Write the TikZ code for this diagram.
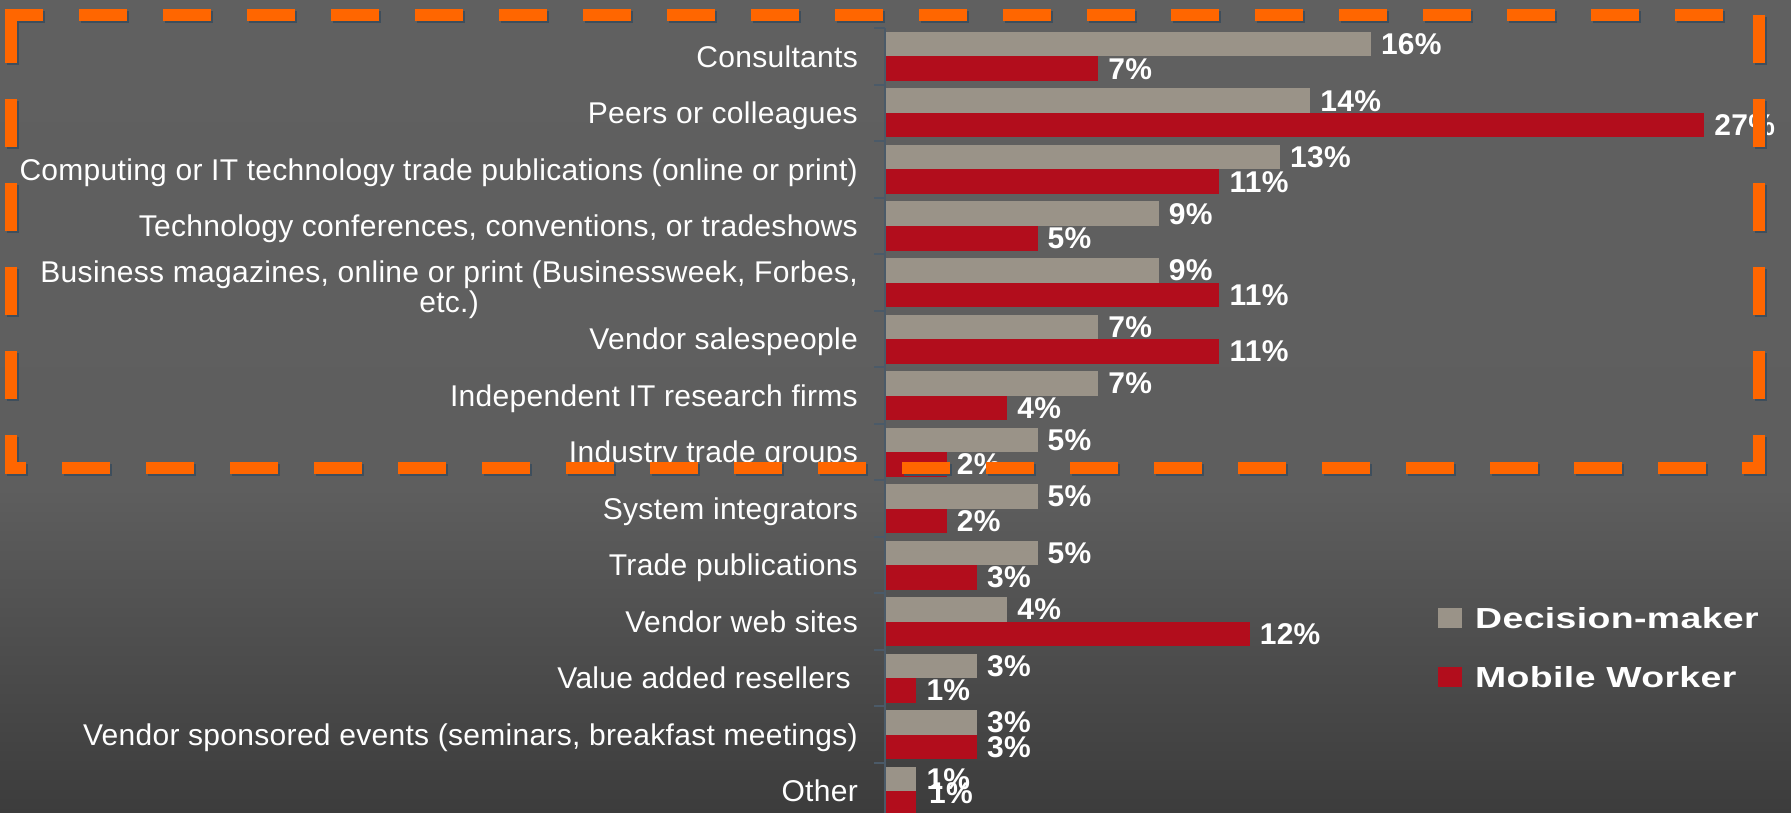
\documentclass[tikz,border=0pt]{standalone}
\usepackage{fontspec}
\usepackage{graphicx}
\setmainfont[LetterSpace=1]{Liberation Sans}
\definecolor{decis}{HTML}{9A9388}
\definecolor{mobil}{HTML}{B20D1C}
\definecolor{bgtop}{HTML}{606060}
\definecolor{bgmid}{HTML}{5E5E5E}
\definecolor{bgbot}{HTML}{3C3C3C}
\definecolor{orange}{HTML}{FF6600}
\definecolor{dashshadow}{HTML}{3E4E5C}
\definecolor{axis}{HTML}{4B5A68}
\pgfdeclareverticalshading{backdrop}{100bp}{color(0bp)=(bgbot); color(25bp)=(bgbot); color(45bp)=(bgmid); color(75bp)=(bgtop); color(100bp)=(bgtop)}
\newcommand{\widetxt}[1]{\scalebox{1.29}[1]{#1}}
\begin{document}
\begin{tikzpicture}[x=1pt,y=-1pt,
  cat/.style={text=white,inner sep=0pt,anchor=base east,font=\fontsize{30}{30}\selectfont},
  pct/.style={text=white,inner sep=0pt,anchor=base west,font=\bfseries\fontsize{30}{30}\selectfont},
  legendtxt/.style={text=white,inner sep=0pt,anchor=base west,font=\bfseries\fontsize{29}{30}\selectfont},
  axisline/.style={draw=axis,line width=2pt},
  boxdash/.style={draw=orange,line width=12pt,dash pattern=on 48pt off 36pt},
  boxshadow/.style={boxdash,draw=dashshadow,xshift=2pt,yshift=-2pt}]
\useasboundingbox (0,0) rectangle (1791,813);
\clip (0,0) rectangle (1791,813);
\shade[shading=backdrop] (0,0) rectangle (1791,813);
% axis
\draw[axisline] (885,28.25) -- (885,813);
\draw[axisline] (874,28.25) -- (885,28.25);
\draw[axisline] (874,84.75) -- (885,84.75);
\draw[axisline] (874,141.25) -- (885,141.25);
\draw[axisline] (874,197.75) -- (885,197.75);
\draw[axisline] (874,254.25) -- (885,254.25);
\draw[axisline] (874,310.75) -- (885,310.75);
\draw[axisline] (874,367.25) -- (885,367.25);
\draw[axisline] (874,423.75) -- (885,423.75);
\draw[axisline] (874,480.25) -- (885,480.25);
\draw[axisline] (874,536.75) -- (885,536.75);
\draw[axisline] (874,593.25) -- (885,593.25);
\draw[axisline] (874,649.75) -- (885,649.75);
\draw[axisline] (874,706.25) -- (885,706.25);
\draw[axisline] (874,762.75) -- (885,762.75);
% bars
\fill[decis] (886,32) rectangle (1370.8,56.5);
\fill[mobil] (886,56.5) rectangle (1098.1,81);
\fill[decis] (886,88.5) rectangle (1310.2,113);
\fill[mobil] (886,113) rectangle (1704.1,137.5);
\fill[decis] (886,145) rectangle (1279.9,169.5);
\fill[mobil] (886,169.5) rectangle (1219.3,194);
\fill[decis] (886,201.5) rectangle (1158.7,226);
\fill[mobil] (886,226) rectangle (1037.5,250.5);
\fill[decis] (886,258) rectangle (1158.7,282.5);
\fill[mobil] (886,282.5) rectangle (1219.3,307);
\fill[decis] (886,314.5) rectangle (1098.1,339);
\fill[mobil] (886,339) rectangle (1219.3,363.5);
\fill[decis] (886,371) rectangle (1098.1,395.5);
\fill[mobil] (886,395.5) rectangle (1007.2,420);
\fill[decis] (886,427.5) rectangle (1037.5,452);
\fill[mobil] (886,452) rectangle (946.6,476.5);
\fill[decis] (886,484) rectangle (1037.5,508.5);
\fill[mobil] (886,508.5) rectangle (946.6,533);
\fill[decis] (886,540.5) rectangle (1037.5,565);
\fill[mobil] (886,565) rectangle (976.9,589.5);
\fill[decis] (886,597) rectangle (1007.2,621.5);
\fill[mobil] (886,621.5) rectangle (1249.6,646);
\fill[decis] (886,653.5) rectangle (976.9,678);
\fill[mobil] (886,678) rectangle (916.3,702.5);
\fill[decis] (886,710) rectangle (976.9,734.5);
\fill[mobil] (886,734.5) rectangle (976.9,759);
\fill[decis] (886,766.5) rectangle (916.3,791);
\fill[mobil] (886,791) rectangle (916.3,813);
% categories
\node[cat] (cons) at (858,67.2) {Consultants};
\node[cat] (peers) at (858,123.7) {Peers or colleagues};
\node[cat] (comp) at (858,180.2) {Computing or IT technology trade publications (online or print)};
\node[cat] (tech) at (858,236.7) {Technology conferences, conventions, or tradeshows};
\node[cat,anchor=east,align=center] (biz) at (858,290) {Business magazines, online or print (Businessweek, Forbes,\\etc.)};
\node[cat] (sales) at (858,349.7) {Vendor salespeople};
\node[cat] (indep) at (858,406.2) {Independent IT research firms};
\node[cat] (indus) at (858,462.7) {Industry trade groups};
\node[cat] (sysint) at (858,519.2) {System integrators};
\node[cat] (tradepub) at (858,575.7) {Trade publications};
\node[cat] (web) at (858,632.2) {Vendor web sites};
\node[cat] (resell) at (858,688.7) {Value added resellers\rule{7pt}{0pt}};
\node[cat] (spons) at (858,745.2) {Vendor sponsored events (seminars, breakfast meetings)};
\node[cat] (other) at (858,801.7) {Other};
% values
\node[pct] (dcons) at (1380.8,54.95) {16\%};
\node[pct] (mcons) at (1108.1,79.45) {7\%};
\node[pct] (dpeers) at (1320.2,111.45) {14\%};
\node[pct] (mpeers) at (1714.1,135.95) {27\%};
\node[pct] (dcomp) at (1289.9,167.95) {13\%};
\node[pct] (mcomp) at (1229.3,192.45) {11\%};
\node[pct] (dtech) at (1168.7,224.45) {9\%};
\node[pct] (mtech) at (1047.5,248.95) {5\%};
\node[pct] (dbiz) at (1168.7,280.95) {9\%};
\node[pct] (mbiz) at (1229.3,305.45) {11\%};
\node[pct] (dsales) at (1108.1,337.45) {7\%};
\node[pct] (msales) at (1229.3,361.95) {11\%};
\node[pct] (dindep) at (1108.1,393.95) {7\%};
\node[pct] (mindep) at (1017.2,418.45) {4\%};
\node[pct] (dindus) at (1047.5,450.45) {5\%};
\node[pct] (mindus) at (956.6,474.95) {2\%};
\node[pct] (dsysint) at (1047.5,506.95) {5\%};
\node[pct] (msysint) at (956.6,531.45) {2\%};
\node[pct] (dtradepub) at (1047.5,563.45) {5\%};
\node[pct] (mtradepub) at (986.9,587.95) {3\%};
\node[pct] (dweb) at (1017.2,619.95) {4\%};
\node[pct] (mweb) at (1259.6,644.45) {12\%};
\node[pct] (dresell) at (986.9,676.45) {3\%};
\node[pct] (mresell) at (926.3,700.95) {1\%};
\node[pct] (dspons) at (986.9,732.95) {3\%};
\node[pct] (mspons) at (986.9,757.45) {3\%};
\node[pct] (dother) at (926.3,789.45) {1\%};
\node[pct] (mother) at (929,803) {1\%};
% legend
\fill[decis] (1438,608) rectangle (1462,628);
\node[legendtxt] (dm) at (1475,628) {\widetxt{Decision-maker}};
\fill[mobil] (1438,667) rectangle (1462,687);
\node[legendtxt] (mw) at (1475,687) {\widetxt{Mobile Worker}};
% dashed box
\draw[boxshadow,dash phase=10] (5,15) -- (1755,15);
\draw[boxshadow] (1759,15) -- (1759,474);
\draw[boxshadow] (11,15) -- (11,474);
\draw[boxshadow,dash phase=27] (5,468) -- (1765,468);
\draw[boxdash,dash phase=10] (5,15) -- (1755,15);
\draw[boxdash] (1759,15) -- (1759,474);
\draw[boxdash] (11,15) -- (11,474);
\draw[boxdash,dash phase=27] (5,468) -- (1765,468);
\end{tikzpicture}
\end{document}
